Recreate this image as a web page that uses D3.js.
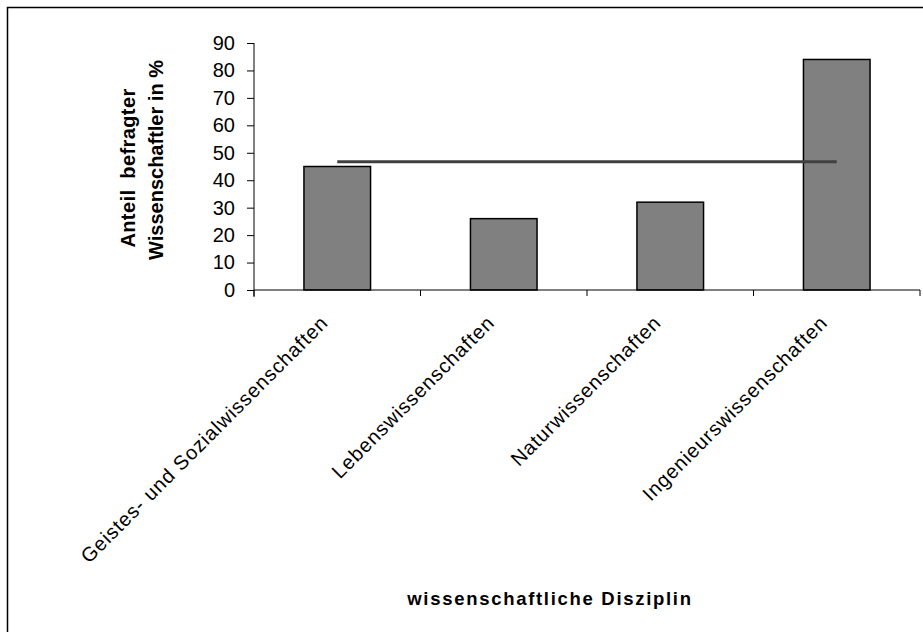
<!DOCTYPE html>
<html>
<head>
<meta charset="utf-8">
<script src="https://cdn.jsdelivr.net/npm/d3@7"></script>
<style>
  html, body { margin: 0; padding: 0; background: #fff; }
  svg text { font-family: "Liberation Sans", Arial, sans-serif; fill: #000; }
</style>
</head>
<body>
<svg id="chart" width="923" height="632"></svg>
<script>
// Anteil befragter Wissenschaftler je Disziplin (in %)
const categories = [
  "Geistes- und Sozialwissenschaften",
  "Lebenswissenschaften",
  "Naturwissenschaften",
  "Ingenieurswissenschaften"
];
const shares = [45, 26, 32, 84];
const averageShare = 46.7;
const yTicks = [0, 10, 20, 30, 40, 50, 60, 70, 80, 90];

const svg = d3.select("#chart");

// outer frame of the chart area
svg.append("rect")
  .attr("x", 7.5).attr("y", 7.5)
  .attr("width", 940).attr("height", 660)
  .attr("fill", "none").attr("stroke", "#000").attr("stroke-width", 1.5);

const plot = { left: 254, right: 920, top: 43, bottom: 290 };

const x = d3.scaleBand()
  .domain(categories)
  .range([plot.left, plot.right])
  .paddingInner(0.6)
  .paddingOuter(0.3);

const y = d3.scaleLinear()
  .domain([0, 90])
  .range([plot.bottom, plot.top]);

// bars
svg.append("g").selectAll("rect")
  .data(categories)
  .join("rect")
  .attr("x", d => x(d))
  .attr("y", (d, i) => y(shares[i]))
  .attr("width", x.bandwidth())
  .attr("height", (d, i) => y(0) - y(shares[i]))
  .attr("fill", "#808080")
  .attr("stroke", "#000")
  .attr("stroke-width", 1.5);

// average line across the category centres
const centre = d => x(d) + x.bandwidth() / 2;
svg.append("line")
  .attr("x1", centre(categories[0]))
  .attr("x2", centre(categories[categories.length - 1]))
  .attr("y1", y(averageShare))
  .attr("y2", y(averageShare))
  .attr("stroke", "#404040")
  .attr("stroke-width", 3);

// y axis
const yAxis = svg.append("g")
  .attr("transform", `translate(${plot.left},0)`)
  .call(d3.axisLeft(y).tickValues(yTicks).tickSize(7).tickPadding(12).tickSizeOuter(0));
yAxis.select(".domain").attr("stroke", "#000").attr("d", `M0,${plot.top}V${plot.bottom + 7}`);
yAxis.selectAll(".tick line").attr("stroke", "#000");
yAxis.selectAll(".tick text")
  .attr("font-size", 20)
  .attr("font-family", "Liberation Sans, Arial, sans-serif")
  .attr("fill", "#000");

// x axis: ticks at the category boundaries
const boundaries = categories.map(d => x(d) - x.step() * x.paddingInner() / 2)
  .concat([plot.right]);
const xAxis = svg.append("g");
xAxis.append("line")
  .attr("x1", plot.left).attr("x2", plot.right)
  .attr("y1", plot.bottom).attr("y2", plot.bottom)
  .attr("stroke", "#000");
xAxis.selectAll("line.tk")
  .data(boundaries)
  .join("line")
  .attr("class", "tk")
  .attr("x1", d => d).attr("x2", d => d)
  .attr("y1", plot.bottom).attr("y2", plot.bottom + 6)
  .attr("stroke", "#000");

// rotated category labels
xAxis.selectAll("text.cat")
  .data(categories)
  .join("text")
  .attr("class", "cat")
  .attr("font-size", 20)
  .attr("letter-spacing", 0.9)
  .attr("text-anchor", "end")
  .attr("transform", d => `translate(${centre(d) - 8},${plot.bottom + 34}) rotate(-45)`)
  .text(d => d);

// axis titles
svg.append("text")
  .attr("x", 550).attr("y", 605)
  .attr("text-anchor", "middle")
  .attr("font-size", 18.5)
  .attr("letter-spacing", 1.7)
  .attr("font-weight", "bold")
  .text("wissenschaftliche Disziplin");

svg.append("text")
  .attr("transform", `translate(135,168) rotate(-90)`)
  .attr("text-anchor", "middle")
  .attr("font-size", 20)
  .attr("font-weight", "bold")
  .attr("letter-spacing", 0.4)
  .attr("word-spacing", 5)
  .text("Anteil befragter");
svg.append("text")
  .attr("transform", `translate(163,160) rotate(-90)`)
  .attr("text-anchor", "middle")
  .attr("font-size", 20)
  .attr("font-weight", "bold")
  .text("Wissenschaftler in %");
</script>
</body>
</html>
